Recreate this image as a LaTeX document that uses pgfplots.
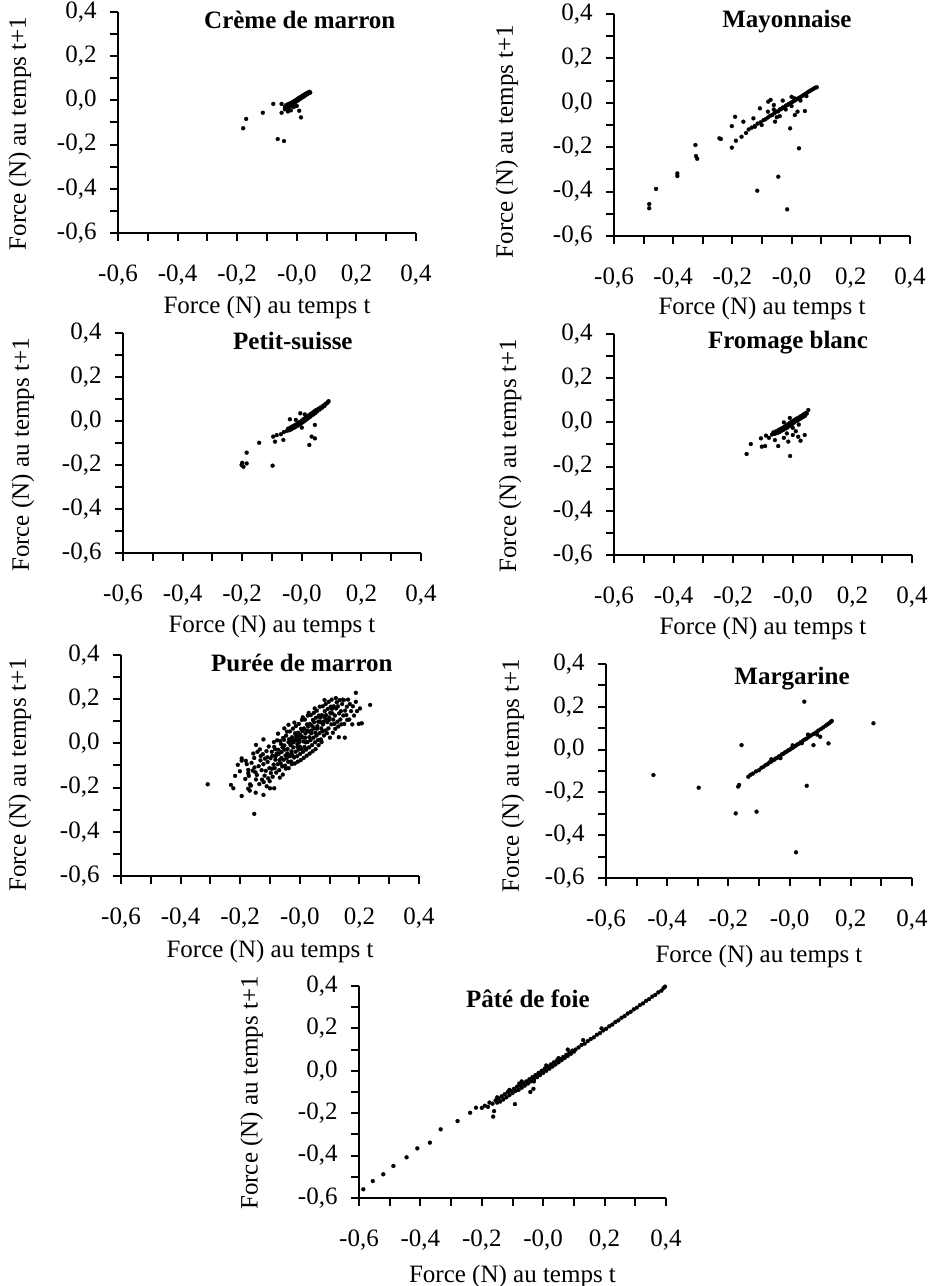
\documentclass[border=0pt]{standalone}
\usepackage{fontspec}
\setmainfont{Liberation Serif}
\usepackage{pgfplots}
\pgfplotsset{compat=1.18}
\pgfplotsset{
  every axis title/.style={anchor=center, font=\fontsize{12.5}{14}\selectfont\bfseries},
  fp/.style={
    scale only axis,
    anchor=south west,
    xmin=-0.6, xmax=0.4, ymin=-0.6, ymax=0.4,
    axis lines=left,
    axis line style={-, line width=1.3pt},
    xtick={-0.6,-0.4,-0.2,0,0.2,0.4},
    ytick={-0.6,-0.4,-0.2,0,0.2,0.4},
    minor xtick={-0.5,-0.3,-0.1,0.1,0.3},
    minor ytick={-0.5,-0.3,-0.1,0.1,0.3},
    xticklabels={{-0,6},{-0,4},{-0,2},{-0,0},{0,2},{0,4}},
    yticklabels={{-0,6},{-0,4},{-0,2},{0,0},{0,2},{0,4}},
    tick align=outside,
    major tick length=4pt, minor tick length=4pt,
    every tick/.style={black, line width=1pt},
    tick label style={font=\fontsize{12.5}{14}\selectfont},
    xticklabel style={yshift=-8.3pt},
    yticklabel style={xshift=-3.2pt},
    label style={font=\fontsize{12.5}{14}\selectfont},
    xlabel={Force (N) au temps t},
    ylabel={Force (N) au temps t+1},
    clip=false,
  },
  dots/.style={only marks, mark=*, mark size=1pt, mark options={draw=black, fill=black, line width=0.1pt}},
}
\begin{document}
\begin{tikzpicture}
\useasboundingbox (0,0) rectangle (464.5pt,643pt);

% ---------------- Creme de marron
\begin{axis}[fp, at={(59pt,526.5pt)}, width=149pt, height=110.5pt,
  title={Crème de marron}, title style={at={(axis description cs:0.61,0.965)}},
  xlabel style={at={(axis description cs:0.5,0)}, anchor=center, yshift=-37pt},
  ylabel style={at={(axis description cs:-0.329,0.45)}, anchor=center}]
\addplot[dots] table {
x y
-0.180 -0.126
-0.170 -0.084
-0.114 -0.056
-0.079 -0.016
-0.064 -0.175
-0.043 -0.184
-0.051 -0.056
-0.051 -0.016
0.008 -0.047
0.014 -0.077
-0.040 -0.040
-0.030 -0.050
-0.020 -0.045
-0.040 -0.030
-0.036 -0.022
-0.032 -0.028
-0.030 -0.018
-0.027 -0.024
-0.025 -0.015
-0.022 -0.020
-0.020 -0.012
-0.018 -0.025
-0.016 -0.010
-0.014 -0.016
-0.012 -0.006
-0.010 -0.012
-0.008 -0.002
-0.006 -0.008
-0.004 0.000
-0.002 -0.005
0.000 0.004
0.002 -0.002
0.004 0.008
0.006 0.002
0.008 0.012
0.010 0.006
0.012 0.015
0.014 0.010
0.016 0.018
0.018 0.013
0.020 0.022
0.022 0.016
0.024 0.025
0.026 0.020
0.028 0.028
0.030 0.024
0.032 0.032
0.035 0.028
0.038 0.036
0.040 0.032
0.043 0.039
0.045 0.035
-0.028 -0.035
-0.010 -0.030
0.000 -0.025
};
\end{axis}

% ---------------- Mayonnaise
\begin{axis}[fp, at={(307pt,525pt)}, width=148pt, height=111pt,
  title={Mayonnaise}, title style={at={(axis description cs:0.584,0.965)}},
  xlabel style={at={(axis description cs:0.5,0)}, anchor=center, yshift=-36pt},
  ylabel style={at={(axis description cs:-0.362,0.425)}, anchor=center}]
\addplot[dots] table {
x y
-0.481 -0.456
-0.481 -0.475
-0.458 -0.388
-0.386 -0.318
-0.386 -0.330
-0.325 -0.190
-0.323 -0.240
-0.319 -0.252
-0.244 -0.160
-0.239 -0.163
-0.202 -0.202
-0.202 -0.105
-0.191 -0.063
-0.188 -0.171
-0.169 -0.153
-0.163 -0.085
-0.154 -0.136
-0.129 -0.070
-0.124 -0.108
-0.116 -0.396
-0.107 -0.025
-0.101 -0.100
-0.079 0.005
-0.071 0.013
-0.056 -0.085
-0.045 -0.333
-0.022 -0.018
-0.015 -0.480
-0.005 -0.115
0.000 0.027
0.011 -0.055
0.025 -0.205
0.045 -0.037
-0.080 -0.040
-0.060 -0.010
-0.040 -0.060
-0.030 0.010
0.010 0.020
0.020 -0.040
-0.145 -0.120
-0.135 -0.112
-0.125 -0.105
-0.115 -0.094
-0.105 -0.088
-0.095 -0.078
-0.088 -0.074
-0.080 -0.066
-0.072 -0.058
-0.065 -0.055
-0.058 -0.046
-0.050 -0.040
-0.045 -0.038
-0.040 -0.030
-0.035 -0.028
-0.030 -0.022
-0.025 -0.020
-0.020 -0.014
-0.015 -0.010
-0.010 -0.006
-0.005 -0.002
0.000 0.002
0.005 0.006
0.010 0.010
0.015 0.014
0.020 0.018
0.025 0.022
0.030 0.026
0.035 0.030
0.040 0.035
0.045 0.039
0.050 0.043
0.055 0.048
0.060 0.052
0.065 0.056
0.070 0.060
0.075 0.064
0.080 0.068
0.085 0.070
-0.060 -0.030
-0.020 -0.030
0.000 -0.015
0.030 0.010
0.050 0.030
-0.050 -0.065
};
\end{axis}

% ---------------- Petit-suisse
\begin{axis}[fp, at={(61.5pt,366.5pt)}, width=149pt, height=110pt,
  title={Petit-suisse}, title style={at={(axis description cs:0.57,0.962)}},
  xlabel style={at={(axis description cs:0.5,0)}, anchor=center, yshift=-36.5pt},
  ylabel style={at={(axis description cs:-0.336,0.445)}, anchor=center}]
\addplot[dots] table {
x y
-0.202 -0.200
-0.196 -0.208
-0.185 -0.193
-0.200 -0.190
-0.185 -0.144
-0.143 -0.099
-0.098 -0.203
-0.096 -0.071
-0.090 -0.094
-0.084 -0.064
-0.062 -0.086
-0.040 0.008
0.025 -0.109
0.033 -0.071
0.044 -0.079
0.044 -0.018
-0.005 0.035
-0.050 -0.045
-0.046 -0.035
-0.042 -0.042
-0.038 -0.030
-0.035 -0.038
-0.032 -0.025
-0.028 -0.032
-0.025 -0.020
-0.022 -0.028
-0.018 -0.015
-0.015 -0.022
-0.012 -0.008
-0.010 -0.018
-0.006 -0.004
-0.003 -0.012
0.000 0.002
0.003 -0.006
0.006 0.008
0.009 0.000
0.012 0.015
0.015 0.006
0.018 0.020
0.021 0.012
0.024 0.026
0.027 0.018
0.030 0.032
0.033 0.025
0.036 0.038
0.039 0.030
0.042 0.044
0.045 0.036
0.048 0.050
0.052 0.044
0.056 0.056
0.060 0.052
0.064 0.062
0.068 0.060
0.072 0.070
0.076 0.068
0.080 0.078
0.084 0.080
0.088 0.086
0.090 0.090
-0.020 0.005
0.010 0.030
-0.060 -0.050
-0.070 -0.060
0.000 -0.030
};
\end{axis}

% ---------------- Fromage blanc
\begin{axis}[fp, at={(307pt,365.5pt)}, width=149pt, height=110.5pt,
  title={Fromage blanc}, title style={at={(axis description cs:0.584,0.96)}},
  xlabel style={at={(axis description cs:0.5,0)}, anchor=center, yshift=-36.5pt},
  ylabel style={at={(axis description cs:-0.349,0.448)}, anchor=center}]
\addplot[dots] table {
x y
-0.155 -0.143
-0.141 -0.098
-0.107 -0.072
-0.104 -0.110
-0.093 -0.107
-0.049 -0.107
-0.009 -0.152
-0.015 -0.087
0.000 -0.057
0.018 -0.065
0.026 -0.083
0.040 -0.057
0.052 0.056
-0.090 -0.060
-0.080 -0.070
-0.060 -0.080
-0.030 -0.070
-0.020 -0.050
0.010 -0.040
-0.070 -0.055
-0.065 -0.045
-0.060 -0.052
-0.056 -0.040
-0.052 -0.048
-0.048 -0.035
-0.045 -0.044
-0.042 -0.030
-0.038 -0.038
-0.035 -0.025
-0.032 -0.034
-0.028 -0.020
-0.025 -0.028
-0.022 -0.014
-0.019 -0.024
-0.016 -0.008
-0.013 -0.018
-0.010 -0.002
-0.007 -0.012
-0.004 0.003
-0.001 -0.006
0.002 0.008
0.005 0.000
0.008 0.013
0.011 0.006
0.014 0.018
0.017 0.010
0.020 0.022
0.023 0.015
0.026 0.027
0.029 0.020
0.032 0.032
0.035 0.025
0.038 0.038
0.041 0.030
0.044 0.043
0.047 0.040
-0.030 0.000
-0.010 0.020
0.000 -0.025
0.020 -0.010
};
\end{axis}

% ---------------- Puree de marron
\begin{axis}[fp, at={(60.5pt,205pt)}, width=149pt, height=110.5pt,
  title={Purée de marron}, title style={at={(axis description cs:0.607,0.962)}},
  xlabel style={at={(axis description cs:0.5,0)}, anchor=center, yshift=-37.5pt},
  ylabel style={at={(axis description cs:-0.339,0.457)}, anchor=center}]
\addplot[dots] table {
x y
-0.309 -0.185
-0.153 -0.319
0.188 0.229
0.236 0.174
0.208 0.091
-0.195 -0.238
-0.231 -0.188
-0.223 -0.203
-0.217 -0.147
-0.173 -0.205
-0.167 -0.185
-0.148 -0.223
-0.122 -0.233
-0.100 -0.203
-0.086 -0.203
-0.195 -0.068
-0.195 -0.078
-0.173 -0.120
-0.173 -0.135
-0.147 -0.007
-0.122 0.018
-0.208 -0.097
-0.201 -0.126
-0.183 -0.161
-0.178 -0.094
-0.181 -0.079
-0.168 -0.214
-0.171 -0.147
-0.162 -0.088
-0.158 -0.123
-0.164 -0.191
-0.156 -0.046
-0.152 -0.109
-0.147 -0.163
-0.153 -0.066
-0.149 -0.131
-0.142 -0.038
-0.138 -0.103
-0.144 -0.143
-0.136 -0.184
-0.132 -0.077
-0.128 -0.121
-0.134 -0.027
-0.127 -0.164
-0.131 -0.057
-0.122 -0.094
-0.118 -0.146
-0.124 -0.049
-0.121 -0.175
-0.117 -0.069
-0.112 -0.035
-0.108 -0.084
-0.114 -0.124
-0.106 -0.158
-0.111 -0.194
-0.109 -0.063
-0.102 -0.112
-0.098 -0.067
-0.104 -0.014
-0.097 -0.134
-0.101 -0.171
-0.094 -0.038
-0.092 -0.056
-0.088 -0.096
-0.094 -0.115
-0.086 -0.016
-0.091 -0.151
-0.087 0.006
-0.082 -0.074
-0.078 -0.046
-0.084 -0.112
-0.076 0.014
-0.081 -0.058
-0.079 -0.132
-0.083 -0.026
-0.072 -0.029
-0.068 -0.076
-0.074 -0.094
-0.066 0.011
-0.071 -0.048
-0.069 -0.121
-0.073 0.044
-0.067 -0.155
-0.062 -0.066
-0.058 -0.018
-0.064 -0.091
-0.056 0.025
-0.061 -0.039
-0.059 -0.104
-0.063 -0.003
-0.057 -0.141
-0.052 -0.009
-0.048 -0.055
-0.054 -0.074
-0.046 0.035
-0.051 -0.028
-0.049 -0.101
-0.053 0.016
-0.047 -0.114
-0.052 0.068
-0.042 -0.045
-0.038 0.006
-0.044 -0.068
-0.036 0.019
-0.041 -0.025
-0.039 -0.084
-0.043 0.053
-0.037 -0.112
-0.041 -0.056
-0.038 0.084
-0.032 0.016
-0.028 -0.036
-0.034 -0.058
-0.026 0.028
-0.031 -0.008
-0.029 -0.082
-0.033 0.054
-0.027 -0.094
-0.031 -0.003
-0.028 -0.046
-0.022 -0.018
-0.018 0.014
-0.024 -0.056
-0.016 0.046
-0.021 0.005
-0.019 -0.064
-0.023 0.067
-0.017 -0.091
-0.022 0.009
-0.018 0.094
-0.012 0.036
-0.008 -0.016
-0.014 -0.038
-0.006 0.048
-0.011 0.015
-0.009 -0.058
-0.013 0.078
-0.007 -0.083
-0.012 0.026
-0.008 -0.003
-0.002 0.006
0.002 0.038
-0.004 -0.028
0.004 0.066
-0.001 0.018
0.001 -0.048
-0.003 0.088
0.003 -0.076
-0.002 0.035
0.001 -0.015
0.008 0.056
0.012 0.009
0.006 -0.026
0.014 0.068
0.009 0.028
0.011 -0.038
0.007 0.106
0.013 -0.066
0.010 0.118
0.018 0.025
0.022 0.058
0.016 -0.016
0.024 0.086
0.019 0.045
0.021 -0.028
0.017 0.108
0.023 -0.056
0.020 0.005
0.028 0.076
0.032 0.028
0.026 0.006
0.034 0.088
0.029 0.055
0.031 -0.018
0.027 0.126
0.033 -0.046
0.030 0.138
0.038 0.046
0.042 0.078
0.036 0.015
0.044 0.106
0.039 0.058
0.041 -0.008
0.037 0.128
0.043 -0.036
0.048 0.096
0.052 0.048
0.046 0.026
0.054 0.116
0.049 0.068
0.051 0.005
0.047 0.138
0.053 -0.026
0.050 0.158
0.058 0.066
0.062 0.098
0.056 0.036
0.064 0.126
0.059 0.078
0.061 0.015
0.057 0.148
0.063 -0.008
0.068 0.116
0.072 0.068
0.066 0.046
0.074 0.128
0.069 0.096
0.071 0.018
0.067 0.166
0.073 0.006
0.078 0.086
0.082 0.118
0.076 0.055
0.084 0.146
0.079 0.098
0.081 0.036
0.077 0.168
0.083 0.196
0.088 0.128
0.092 0.096
0.086 0.058
0.094 0.156
0.089 0.108
0.091 0.046
0.087 0.178
0.098 0.106
0.102 0.138
0.096 0.068
0.104 0.166
0.099 0.118
0.101 0.026
0.097 0.188
0.108 0.156
0.112 0.108
0.106 0.086
0.114 0.168
0.109 0.136
0.111 0.048
0.107 0.198
0.118 0.126
0.122 0.158
0.116 0.088
0.124 0.186
0.119 0.066
0.121 0.205
0.128 0.168
0.132 0.136
0.126 0.098
0.134 0.196
0.129 0.076
0.131 0.028
0.138 0.146
0.142 0.178
0.136 0.108
0.144 0.198
0.139 0.086
0.148 0.196
0.152 0.148
0.146 0.126
0.149 0.088
0.151 0.026
0.158 0.166
0.162 0.198
0.156 0.128
0.159 0.106
0.168 0.178
0.172 0.146
0.166 0.108
0.178 0.168
0.182 0.126
0.176 0.086
0.188 0.188
0.192 0.146
0.198 0.088
0.202 0.158
};
\end{axis}

% ---------------- Margarine
\begin{axis}[fp, at={(303pt,204pt)}, width=153pt, height=107pt,
  title={Margarine}, title style={at={(axis description cs:0.608,0.93)}},
  xlabel style={at={(axis description cs:0.5,0)}, anchor=center, yshift=-39pt},
  ylabel style={at={(axis description cs:-0.304,0.48)}, anchor=center}]
\addplot[dots] table {
x y
-0.445 -0.119
-0.297 -0.178
-0.176 -0.298
-0.108 -0.290
-0.157 0.021
-0.168 -0.173
-0.165 -0.165
0.021 -0.480
0.048 0.224
0.056 -0.169
0.274 0.123
0.127 0.029
0.078 0.021
0.100 0.060
0.090 0.070
-0.135 -0.127
-0.128 -0.118
-0.120 -0.112
-0.110 -0.102
-0.100 -0.096
-0.092 -0.085
-0.085 -0.080
-0.078 -0.072
-0.072 -0.068
-0.066 -0.060
-0.060 -0.056
-0.055 -0.050
-0.050 -0.047
-0.045 -0.041
-0.040 -0.038
-0.035 -0.032
-0.030 -0.029
-0.025 -0.022
-0.020 -0.019
-0.015 -0.013
-0.010 -0.010
-0.005 -0.004
0.000 -0.001
0.005 0.005
0.010 0.008
0.015 0.014
0.020 0.018
0.025 0.024
0.030 0.027
0.036 0.034
0.042 0.039
0.048 0.046
0.055 0.051
0.062 0.058
0.070 0.066
0.078 0.073
0.086 0.080
0.094 0.089
0.102 0.096
0.110 0.104
0.118 0.112
0.124 0.118
0.130 0.124
0.135 0.130
0.138 0.134
-0.060 -0.045
-0.030 -0.040
0.010 0.020
0.040 0.030
0.060 0.070
};
\end{axis}

% ---------------- Pate de foie
\begin{axis}[fp, at={(179.5pt,44pt)}, width=153.5pt, height=106pt,
  title={Pâté de foie}, title style={at={(axis description cs:0.55,0.94)}},
  xlabel style={at={(axis description cs:0.5,0)}, anchor=center, yshift=-39pt},
  ylabel style={at={(axis description cs:-0.35,0.495)}, anchor=center}]
\addplot[dots] table {
x y
-0.586 -0.559
-0.555 -0.520
-0.521 -0.488
-0.488 -0.449
-0.445 -0.408
-0.410 -0.366
-0.369 -0.339
-0.334 -0.276
-0.279 -0.237
-0.238 -0.198
-0.219 -0.174
-0.200 -0.175
-0.190 -0.165
-0.180 -0.170
-0.175 -0.150
-0.165 -0.155
-0.163 -0.216
-0.160 -0.190
-0.155 -0.140
-0.150 -0.150
-0.145 -0.130
-0.140 -0.145
-0.135 -0.120
-0.130 -0.135
-0.125 -0.110
-0.120 -0.125
-0.115 -0.100
-0.110 -0.115
-0.105 -0.095
-0.100 -0.105
-0.095 -0.085
-0.092 -0.157
-0.090 -0.095
-0.085 -0.075
-0.080 -0.090
-0.078 -0.060
-0.075 -0.070
-0.070 -0.080
-0.065 -0.060
-0.060 -0.070
-0.055 -0.050
-0.050 -0.060
-0.045 -0.040
-0.042 -0.100
-0.040 -0.050
-0.035 -0.030
-0.032 -0.085
-0.030 -0.040
-0.025 -0.020
-0.020 -0.030
-0.015 -0.010
-0.010 -0.020
-0.005 0.000
0.000 -0.010
0.005 0.010
0.010 0.000
0.015 0.020
0.020 0.010
0.025 0.030
0.030 0.020
0.035 0.040
0.040 0.030
0.045 0.050
0.050 0.040
0.055 0.055
0.060 0.050
0.065 0.065
0.070 0.060
0.075 0.075
0.080 0.070
0.085 0.085
0.090 0.080
0.095 0.095
0.100 0.090
0.105 0.100
0.115 0.110
0.125 0.122
0.130 0.145
0.135 0.128
0.145 0.140
0.155 0.150
0.165 0.158
0.175 0.170
0.185 0.178
0.190 0.200
0.195 0.190
0.205 0.198
0.215 0.210
0.225 0.218
0.235 0.230
0.245 0.238
0.255 0.250
0.265 0.258
0.275 0.270
0.285 0.278
0.295 0.290
0.305 0.298
0.315 0.310
0.325 0.318
0.335 0.330
0.345 0.338
0.355 0.350
0.365 0.358
0.375 0.370
0.385 0.378
0.392 0.390
0.397 0.397
-0.150 -0.125
-0.110 -0.090
-0.070 -0.050
-0.030 -0.050
0.010 0.025
0.050 0.060
0.080 0.100
};
\end{axis}
\end{tikzpicture}
\end{document}
